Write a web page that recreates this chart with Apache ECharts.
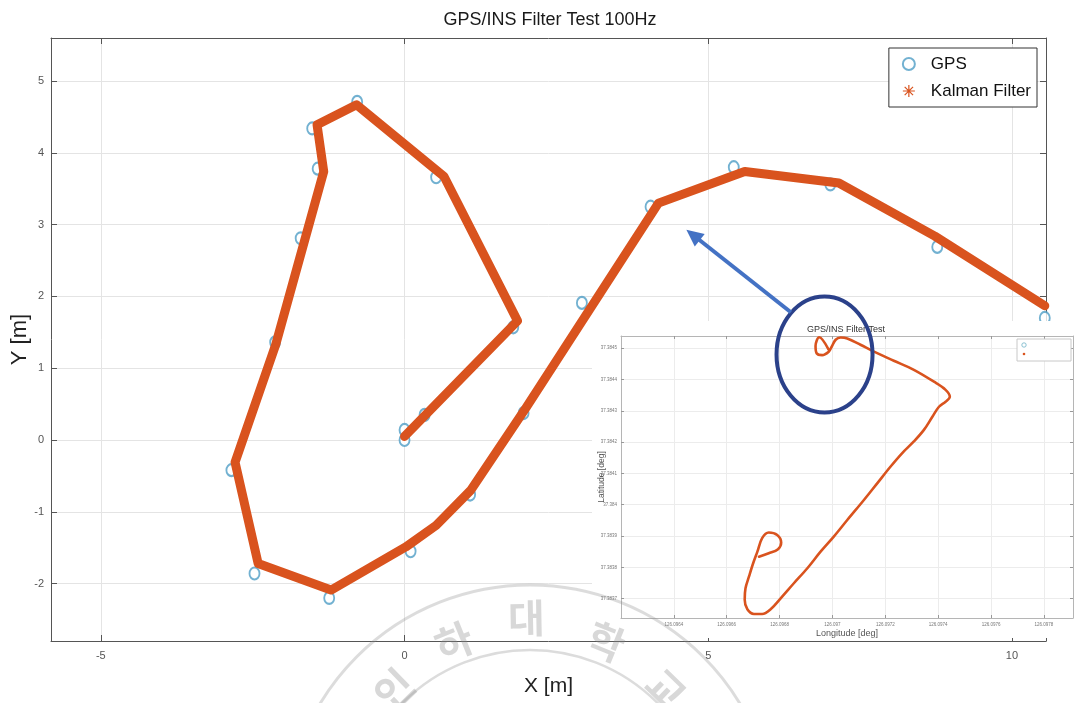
<!DOCTYPE html>
<html>
<head>
<meta charset="utf-8">
<script src="https://cdn.jsdelivr.net/npm/echarts@6/dist/echarts.min.js"></script>
<style>html,body{margin:0;padding:0;background:#fff}#c{width:1078px;height:703px}</style>
</head>
<body>
<div id="c"></div>
<script>
// ---------- main chart data (metres) ----------
const xTicks = [-5, 0, 5, 10];
const yTicks = [-2, -1, 0, 1, 2, 3, 4, 5];

const gpsX = [0.00, 0.00, 0.33, 1.79, 0.52, -0.78, -1.52, -1.43, -1.71, -2.13, -2.85, -2.47, -1.24, 0.10, 1.08, 1.96, 2.92, 4.05, 5.42, 7.01, 8.77, 10.54];
const gpsY = [0.00, 0.14, 0.35, 1.57, 3.66, 4.71, 4.34, 3.78, 2.81, 1.36, -0.42, -1.86, -2.20, -1.55, -0.76, 0.375, 1.91, 3.25, 3.80, 3.56, 2.69, 1.70];

const kfX = [0.00, 1.86, 0.65, -0.79, -1.44, -1.33, -2.12, -2.79, -2.41, -1.21, 0.02, 0.52, 1.09, 2.00, 4.18, 5.60, 7.15, 8.73, 10.54];
const kfY = [0.05, 1.66, 3.67, 4.67, 4.39, 3.74, 1.33, -0.31, -1.72, -2.09, -1.49, -1.19, -0.70, 0.45, 3.30, 3.74, 3.58, 2.84, 1.87];

// ---------- inset chart data (degrees) ----------
const insetXTicks = [126.0964, 126.0966, 126.0968, 126.097, 126.0972, 126.0974, 126.0976, 126.0978];
const insetYTicks = [37.3837, 37.3838, 37.3839, 37.384, 37.3841, 37.3842, 37.3843, 37.3844, 37.3845];

const insetLon = [126.096986, 126.096950, 126.096936, 126.096940, 126.096961, 126.096986, 126.096996, 126.097012, 126.097031, 126.097056,
  126.097106, 126.097157, 126.097232, 126.097308, 126.097384, 126.097428, 126.097444, 126.097428, 126.097403, 126.097378,
  126.097346, 126.097308, 126.097264, 126.097220, 126.097170, 126.097119, 126.097056, 126.097005, 126.096955, 126.096905,
  126.096854, 126.096804, 126.096766, 126.096734, 126.096703, 126.096678, 126.096668, 126.096671, 126.096684, 126.096700,
  126.096716, 126.096734, 126.096759, 126.096791, 126.096806, 126.096794, 126.096759, 126.096722];
const insetLat = [37.384495, 37.384535, 37.384507, 37.384484, 37.384478, 37.384489, 37.384503, 37.384527, 37.384534, 37.384531,
  37.384511, 37.384489, 37.384460, 37.384431, 37.384393, 37.384367, 37.384345, 37.384329, 37.384313, 37.384281,
  37.384239, 37.384202, 37.384165, 37.384122, 37.384069, 37.384015, 37.383951, 37.383898, 37.383850, 37.383797,
  37.383749, 37.383701, 37.383666, 37.383651, 37.383651, 37.383666, 37.383696, 37.383733, 37.383770, 37.383813,
  37.383850, 37.383893, 37.383911, 37.383903, 37.383879, 37.383858, 37.383845, 37.383834];

// ---------- style ----------
const FONT = "'Liberation Sans', Arial, sans-serif";
const BLUE = '#4f9dc6';
const ORANGE = '#d9531e';
const AX = '#555';

const chart = echarts.init(document.getElementById('c'), null, {renderer: 'canvas'});

function mainX(pos) {
  return {
    type: 'value', gridIndex: 0, position: pos, min: -5.82, max: 10.56,
    axisLine: {show: true, onZero: false, lineStyle: {color: AX, width: 1}},
    axisTick: {show: true, inside: true, length: 6, customValues: xTicks, lineStyle: {color: AX}},
    axisLabel: pos === 'bottom'
      ? {show: true, customValues: xTicks, color: '#555', fontSize: 11, margin: 9, fontFamily: FONT}
      : {show: false},
    splitLine: {show: pos === 'bottom', lineStyle: {color: '#e4e4e4', width: 1}},
    name: pos === 'bottom' ? 'X [m]' : '',
    nameLocation: 'middle', nameGap: 35,
    nameTextStyle: {fontSize: 21, color: '#222', fontFamily: FONT}
  };
}
function mainY(pos) {
  return {
    type: 'value', gridIndex: 0, position: pos, min: -2.8, max: 5.6,
    axisLine: {show: true, onZero: false, lineStyle: {color: AX, width: 1}},
    axisTick: {show: true, inside: true, length: 6, customValues: yTicks, lineStyle: {color: AX}},
    axisLabel: pos === 'left'
      ? {show: true, customValues: yTicks, color: '#555', fontSize: 11, margin: 7, fontFamily: FONT}
      : {show: false},
    splitLine: {show: pos === 'left', lineStyle: {color: '#e4e4e4', width: 1}},
    name: pos === 'left' ? 'Y [m]' : '',
    nameLocation: 'middle', nameGap: 20, nameRotate: 90, nameMoveOverlap: false,
    nameTextStyle: {fontSize: 22, color: '#222', fontFamily: FONT}
  };
}
const fmtDeg = v => String(parseFloat(Number(v).toFixed(4)));
function insetX(pos) {
  return {
    type: 'value', gridIndex: 1, position: pos, min: 126.0962, max: 126.09791, z: 60,
    axisLine: {show: true, onZero: false, lineStyle: {color: '#b5b5b5', width: 1}},
    axisTick: {show: true, inside: true, length: 3, customValues: insetXTicks, lineStyle: {color: '#999'}},
    axisLabel: pos === 'bottom'
      ? {show: true, customValues: insetXTicks, formatter: fmtDeg, color: '#777', fontSize: 4.5, margin: 4, fontFamily: FONT}
      : {show: false},
    splitLine: {show: pos === 'bottom', lineStyle: {color: '#ececec', width: 1}},
    name: pos === 'bottom' ? 'Longitude [deg]' : '',
    nameLocation: 'middle', nameGap: 11,
    nameTextStyle: {fontSize: 9, color: '#555', fontFamily: FONT}
  };
}
function insetY(pos) {
  return {
    type: 'value', gridIndex: 1, position: pos, min: 37.383638, max: 37.384539, z: 60,
    axisLine: {show: true, onZero: false, lineStyle: {color: '#b5b5b5', width: 1}},
    axisTick: {show: true, inside: true, length: 3, customValues: insetYTicks, lineStyle: {color: '#999'}},
    axisLabel: pos === 'left'
      ? {show: true, customValues: insetYTicks, formatter: fmtDeg, color: '#777', fontSize: 4.5, margin: 4, fontFamily: FONT}
      : {show: false},
    splitLine: {show: pos === 'left', lineStyle: {color: '#ececec', width: 1}},
    name: pos === 'left' ? 'Latitude [deg]' : '',
    nameLocation: 'middle', nameGap: 15, nameRotate: 90, nameMoveOverlap: false,
    nameTextStyle: {fontSize: 8.5, color: '#555', fontFamily: FONT}
  };
}

const asterisk = 'path://M5 0L5 10M0 5L10 5M1.5 1.5L8.5 8.5M8.5 1.5L1.5 8.5';

chart.setOption({
  animation: false,
  backgroundColor: '#fff',
  title: {
    text: 'GPS/INS Filter Test 100Hz',
    left: 545, top: 6, textAlign: 'center',
    textStyle: {fontSize: 18, fontWeight: 'normal', color: '#1a1a1a', fontFamily: FONT}
  },
  legend: {
    orient: 'vertical', right: 41, top: 48,
    padding: [6, 6, 6, 13], itemGap: 7, itemWidth: 34, itemHeight: 12,
    backgroundColor: '#fff', borderColor: '#333', borderWidth: 1,
    textStyle: {fontSize: 17, color: '#111', fontFamily: FONT, lineHeight: 20},
    data: [
      {name: 'GPS', icon: 'emptyCircle', itemStyle: {color: BLUE, borderColor: BLUE, borderWidth: 1.2}},
      {name: 'Kalman Filter', icon: asterisk, itemStyle: {color: ORANGE, borderColor: ORANGE, borderWidth: 1.2}}
    ]
  },
  grid: [
    {left: 51, top: 38, right: 32, bottom: 62, containLabel: false, outerBoundsMode: 'none'},
    {left: 621, top: 336, right: 5, bottom: 85, containLabel: false, outerBoundsMode: 'none'}
  ],
  xAxis: [mainX('bottom'), mainX('top'), insetX('bottom'), insetX('top')],
  yAxis: [mainY('left'), mainY('right'), insetY('left'), insetY('right')],
  series: [
    {
      type: 'scatter', name: 'GPS', xAxisIndex: 0, yAxisIndex: 0,
      data: gpsX.map((x, i) => [x, gpsY[i]]),
      symbol: 'emptyCircle', symbolSize: [10, 12],
      itemStyle: {color: BLUE, borderWidth: 1.1}, z: 2
    },
    {
      type: 'line', name: 'Kalman Filter', xAxisIndex: 0, yAxisIndex: 0,
      data: kfX.map((x, i) => [x, kfY[i]]),
      symbol: 'none',
      lineStyle: {color: ORANGE, width: 9, join: 'round', cap: 'round'},
      itemStyle: {color: ORANGE}, z: 3
    },
    {
      type: 'line', name: 'inset', xAxisIndex: 2, yAxisIndex: 2,
      data: insetLon.map((x, i) => [x, insetLat[i]]),
      symbol: 'none', smooth: 0.35,
      lineStyle: {color: ORANGE, width: 2.6, join: 'round', cap: 'round'},
      z: 61
    }
  ]
});

// ---------- annotations (positioned through the axes) ----------
const tip = chart.convertToPixel({xAxisIndex: 0, yAxisIndex: 0}, [4.64, 2.93]);
const tail = chart.convertToPixel({xAxisIndex: 0, yAxisIndex: 0}, [6.36, 1.78]);
const ell = chart.convertToPixel({xAxisIndex: 2, yAxisIndex: 2}, [126.09697, 37.38448]);
const dx = tip[0] - tail[0], dy = tip[1] - tail[1];
const L = Math.hypot(dx, dy), ux = dx / L, uy = dy / L;
const headLen = 17, headW = 8;
const base = [tip[0] - ux * headLen, tip[1] - uy * headLen];
const p1 = [base[0] - uy * headW, base[1] + ux * headW];
const p2 = [base[0] + uy * headW, base[1] - ux * headW];

const wm = '#8a8a8a';
const wmCx = 530, wmCy = 830;
function wmChar(ch, ang, r) {
  const a = ang * Math.PI / 180;
  return {
    type: 'text', z: 300,
    x: wmCx + r * Math.sin(a), y: wmCy - r * Math.cos(a),
    rotation: -a,
    style: {text: ch, fill: wm, opacity: 0.33, font: 'bold 40px "Noto Sans CJK KR"', align: 'center', verticalAlign: 'middle'}
  };
}

chart.setOption({
  graphic: [
    {type: 'rect', z: 50, shape: {x: 592, y: 321, width: 486, height: 317}, style: {fill: '#fff'}},
    {type: 'text', z: 70, x: 846, y: 330,
      style: {text: 'GPS/INS Filter Test', fill: '#333', font: '9px ' + FONT, align: 'center', verticalAlign: 'middle'}},
    // inset legend
    {type: 'rect', z: 62, shape: {x: 1017, y: 339, width: 54, height: 22},
      style: {fill: '#fff', stroke: '#c8c8c8', lineWidth: 1}},
    {type: 'circle', z: 63, shape: {cx: 1024, cy: 345, r: 2.2}, style: {fill: 'none', stroke: '#6fb3c6', lineWidth: 0.8}},
    {type: 'circle', z: 63, shape: {cx: 1024, cy: 354, r: 1.3}, style: {fill: ORANGE}},
    // ellipse highlight
    {type: 'ellipse', z: 100, shape: {cx: ell[0], cy: ell[1], rx: 48, ry: 58},
      style: {fill: 'none', stroke: '#2b418a', lineWidth: 4}},
    // arrow
    {type: 'line', z: 100, shape: {x1: tail[0], y1: tail[1], x2: base[0] + ux * 2, y2: base[1] + uy * 2},
      style: {stroke: '#4472c4', lineWidth: 4}},
    {type: 'polygon', z: 100, shape: {points: [tip, p1, p2]}, style: {fill: '#4472c4'}},
    // watermark seal
    {type: 'circle', z: 300, shape: {cx: wmCx, cy: wmCy, r: 245}, style: {fill: 'none', stroke: wm, lineWidth: 3, opacity: 0.3}},
    {type: 'circle', z: 300, shape: {cx: wmCx, cy: wmCy, r: 180}, style: {fill: 'none', stroke: wm, lineWidth: 2.5, opacity: 0.3}},
    wmChar('인', -44, 196),
    wmChar('하', -22, 203),
    wmChar('대', -1, 212),
    wmChar('학', 22, 203),
    wmChar('교', 44, 196)
  ]
});
</script>
</body>
</html>
